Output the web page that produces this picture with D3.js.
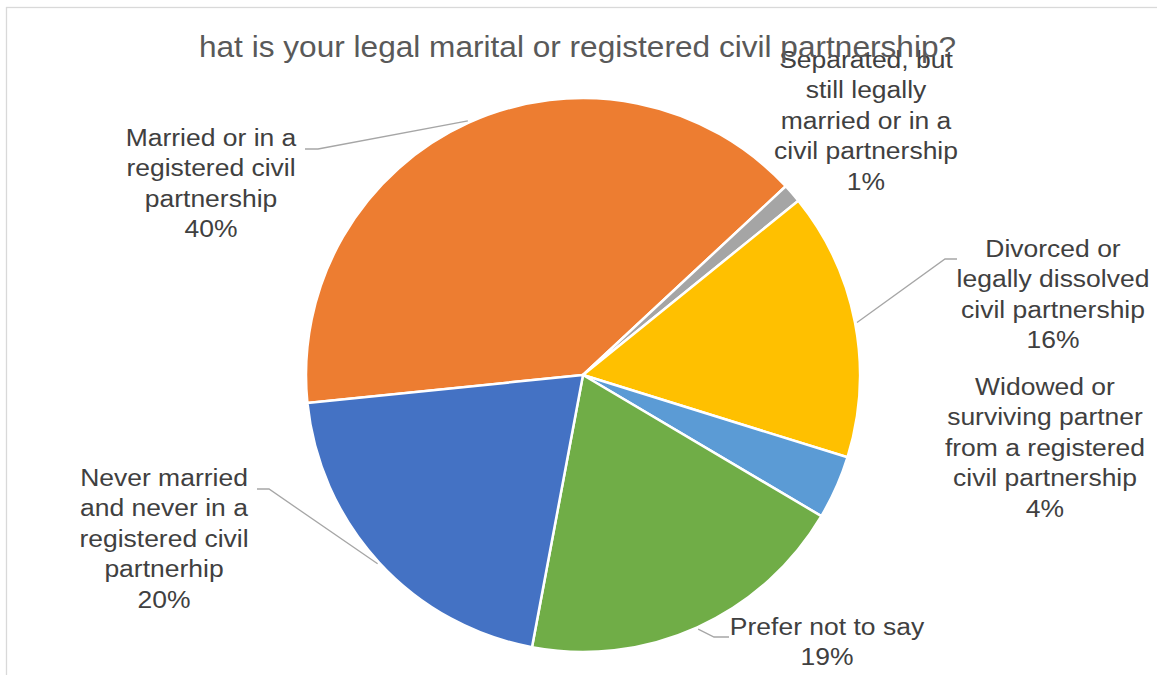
<!DOCTYPE html>
<html>
<head>
<meta charset="utf-8">
<script src="https://cdn.jsdelivr.net/npm/d3@7"></script>
<style>
  html, body { margin: 0; padding: 0; background: #fff; }
  svg { display: block; }
  text { font-family: Arial, "Liberation Sans", sans-serif; }
</style>
</head>
<body>
<svg id="svg" width="1157" height="675"></svg>
<script>
// Chart data
var title = "hat is your legal marital or registered civil partnership?";
var categories = [
  "Married or in a registered civil partnership",
  "Separated, but still legally married or in a civil partnership",
  "Divorced or legally dissolved civil partnership",
  "Widowed or surviving partner from a registered civil partnership",
  "Prefer not to say",
  "Never married and never in a registered civil partnerhip"
];
var values = [39.6, 1.1, 15.6, 3.7, 19.4, 20.4];
var colors = ["#ED7D31", "#A5A5A5", "#FFC000", "#5B9BD5", "#70AD47", "#4472C4"];

// how the label text wraps in the original
var labelLines = [
  ["Married or in a", "registered civil", "partnership"],
  ["Separated, but", "still legally", "married or in a", "civil partnership"],
  ["Divorced or", "legally dissolved", "civil partnership"],
  ["Widowed or", "surviving partner", "from a registered", "civil partnership"],
  ["Prefer not to say"],
  ["Never married", "and never in a", "registered civil", "partnerhip"]
];

// label placement: centre x, first baseline, leader elbow + end (null = no leader)
var labelPos = [
  {x: 211, y: 146, elbow: [318, 149], end: [305, 149]},
  {x: 866, y: 68, elbow: null},
  {x: 1053, y: 257, elbow: [945, 259], end: [957, 259]},
  {x: 1045, y: 395, elbow: null},
  {x: 827, y: 635, elbow: [714, 637], end: [729, 637]},
  {x: 164, y: 486, elbow: [269, 489], end: [257, 489]}
];

var svg = d3.select("#svg"),
    width = +svg.attr("width"),
    height = +svg.attr("height");

var cx = 583, cy = 375, radius = 277;
var lineH = 30.5;
var stretch = 1.09; // text in the original is a bit wider than Arial

// chart frame (only top + left visible)
svg.append("rect")
    .attr("x", 6.5)
    .attr("y", 7.5)
    .attr("width", 1300)
    .attr("height", 800)
    .attr("fill", "none")
    .attr("stroke", "#d9d9d9")
    .attr("stroke-width", 1.3);

var total = d3.sum(values);
var startA = 264.2 * Math.PI / 180;

var pie = d3.pie()
    .sort(null)
    .value(function(d) { return d; })
    .startAngle(startA)
    .endAngle(startA + 2 * Math.PI);

var arc = d3.arc()
    .innerRadius(0)
    .outerRadius(radius);

var arcs = pie(values);

var g = svg.append("g")
    .attr("transform", "translate(" + cx + "," + cy + ")");

g.selectAll("path")
    .data(arcs)
    .enter().append("path")
      .attr("d", arc)
      .attr("fill", function(d, i) { return colors[i]; })
      .attr("stroke", "#fff")
      .attr("stroke-width", 2.5)
      .attr("stroke-linejoin", "round");

// leader lines, from slice mid angle just outside the rim
var leaderArc = d3.arc().innerRadius(radius + 2).outerRadius(radius + 2);

arcs.forEach(function(d, i) {
  var p = labelPos[i];
  if (!p.elbow) return;
  var a = (d.startAngle + d.endAngle) / 2;
  var sx = cx + Math.sin(a) * (radius + 2),
      sy = cy - Math.cos(a) * (radius + 2);
  svg.append("polyline")
      .attr("points", [[sx, sy], p.elbow, p.end].map(function(q) { return q.join(","); }).join(" "))
      .attr("fill", "none")
      .attr("stroke", "#a6a6a6")
      .attr("stroke-width", 1.3);
});

// data labels
arcs.forEach(function(d, i) {
  var p = labelPos[i];
  var lines = labelLines[i].concat([Math.round(d.value / total * 100) + "%"]);
  var t = svg.append("g")
      .attr("transform", "translate(" + p.x + "," + p.y + ") scale(" + stretch + ",1)");
  lines.forEach(function(s, k) {
    t.append("text")
        .attr("x", 0)
        .attr("y", k * lineH)
        .attr("text-anchor", "middle")
        .attr("font-size", 24.3)
        .attr("fill", "#404040")
        .text(s);
  });
});

// title (drawn last, overlaps the top label like the original)
svg.append("text")
    .attr("transform", "translate(577.5,57) scale(" + stretch + ",1)")
    .attr("text-anchor", "middle")
    .attr("font-size", 29)
    .attr("fill", "#595959")
    .text(title);
</script>
</body>
</html>
